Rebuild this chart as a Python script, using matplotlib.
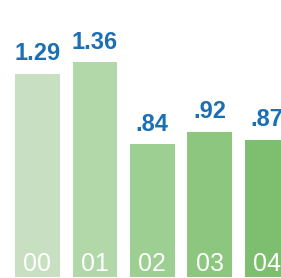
import matplotlib
matplotlib.use("Agg")
import matplotlib.pyplot as plt

categories = ["00", "01", "02", "03", "04"]
values = [1.29, 1.36, 0.84, 0.92, 0.87]
value_labels = ["1.29", "1.36", ".84", ".92", ".87"]
bar_colors = ["#c8e0c1", "#b2d8aa", "#9dce92", "#8dc77f", "#7dbf6e"]

plt.rcParams['font.family'] = ['Liberation Sans', 'DejaVu Sans']

fig = plt.figure(figsize=(2.81, 2.78), dpi=100)
ax = fig.add_axes([0, 1/278, 1, 277/278])
x = list(range(len(categories)))
ax.bar(x, values, width=0.78, color=bar_colors, linewidth=0)
ax.set_xlim(-0.653, 4.242)
ax.set_ylim(0, 1.756)
ax.axis('off')

for xi, v, lab, cat in zip(x, values, value_labels, categories):
    ax.annotate(lab, (xi, v), xytext=(0, 10), textcoords='offset points',
                ha='center', va='baseline', fontsize=17, fontweight='bold',
                color='#1a6fb5')
    ax.annotate(cat, (xi, 0), xytext=(0, 4.5), textcoords='offset points',
                ha='center', va='baseline', fontsize=18, color='white')

fig.savefig("out.png", dpi=100)
